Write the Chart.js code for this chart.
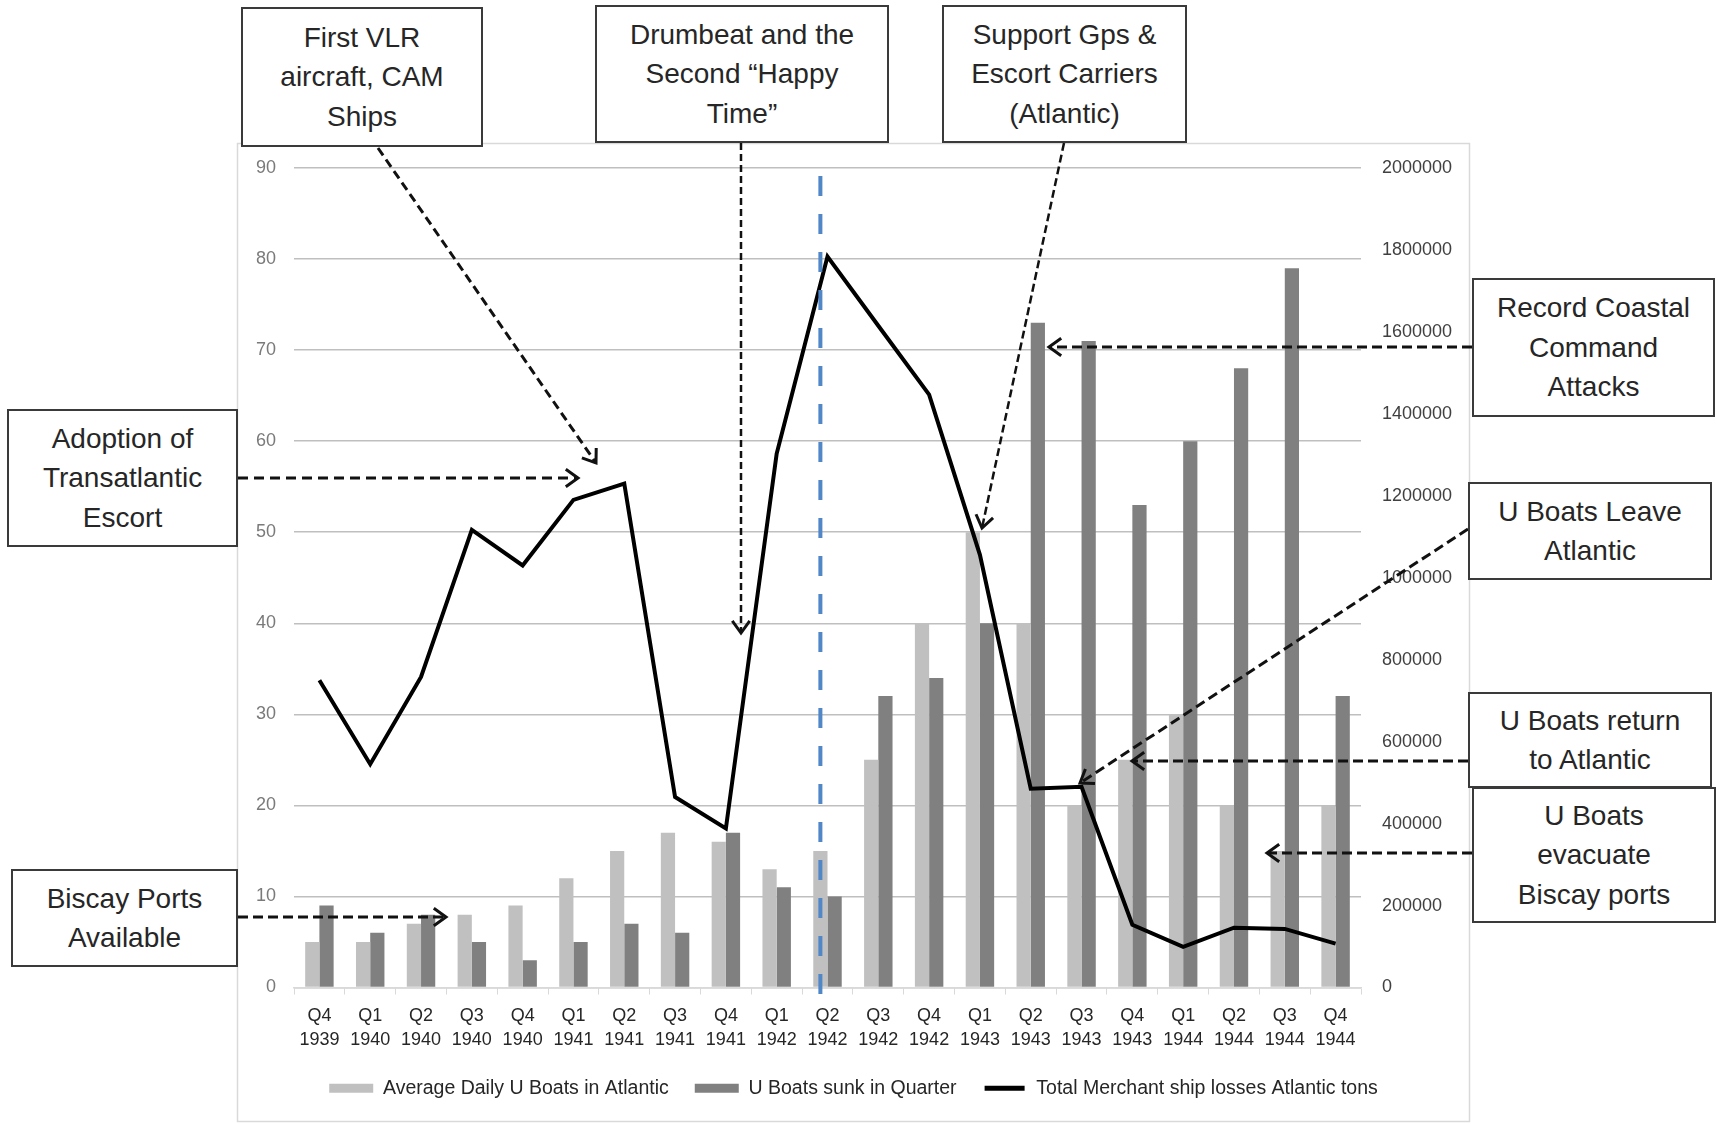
<!DOCTYPE html>
<html><head><meta charset="utf-8">
<script src="https://cdn.jsdelivr.net/npm/chart.js@4/dist/chart.umd.min.js"></script>
<style>
html,body{margin:0;padding:0;background:#fff;overflow:hidden;}
#wrap{position:relative;width:1717px;height:1124px;overflow:hidden;}
#c{position:absolute;left:0;top:0;}
.note{position:absolute;box-sizing:border-box;border:2px solid #3a3a3a;background:#fff;display:flex;align-items:center;justify-content:center;text-align:center;font-family:'Liberation Sans',Arial,sans-serif;font-size:28px;line-height:39.5px;color:#262626;}
</style></head><body>
<div id="wrap">
<canvas id="c" width="1717" height="1124"></canvas>
<div class="note" style="left:241px;top:7px;width:242px;height:140px">First VLR<br>aircraft, CAM<br>Ships</div>
<div class="note" style="left:595px;top:5px;width:294px;height:138px">Drumbeat and the<br>Second “Happy<br>Time”</div>
<div class="note" style="left:942px;top:5px;width:245px;height:138px">Support Gps &amp;<br>Escort Carriers<br>(Atlantic)</div>
<div class="note" style="left:7px;top:409px;width:231px;height:138px">Adoption of<br>Transatlantic<br>Escort</div>
<div class="note" style="left:11px;top:869px;width:227px;height:98px">Biscay Ports<br>Available</div>
<div class="note" style="left:1472px;top:278px;width:243px;height:139px">Record Coastal<br>Command<br>Attacks</div>
<div class="note" style="left:1468px;top:482px;width:244px;height:98px">U Boats Leave<br>Atlantic</div>
<div class="note" style="left:1468px;top:692px;width:244px;height:96px">U Boats return<br>to Atlantic</div>
<div class="note" style="left:1472px;top:787px;width:244px;height:136px">U Boats<br>evacuate<br>Biscay ports</div>
</div>
<script>
// ---- data ----
const quarters = ['Q4','Q1','Q2','Q3','Q4','Q1','Q2','Q3','Q4','Q1','Q2','Q3','Q4','Q1','Q2','Q3','Q4','Q1','Q2','Q3','Q4'];
const years    = ['1939','1940','1940','1940','1940','1941','1941','1941','1941','1942','1942','1942','1942','1943','1943','1943','1943','1944','1944','1944','1944'];
const avgDailyUBoats = [5,5,7,8,9,12,15,17,16,13,15,25,40,50,40,20,25,30,20,15,20];
const uBoatsSunk     = [9,6,8,5,3,5,7,6,17,11,10,32,34,40,73,71,53,60,68,79,32];
const merchantLosses = [750000,545000,758000,1117000,1030000,1190000,1230000,465000,388000,1303000,1784000,1615000,1447000,1056000,485000,490000,153000,99000,146000,143000,107000];
const seriesNames = ['Average Daily U Boats in Atlantic','U Boats sunk in Quarter','Total Merchant ship losses Atlantic tons'];
const leftAxis  = {min:0, max:90, step:10};
const rightAxis = {min:0, max:2000000, step:200000};
const markerCategory = 10; // Q2 1942

const categories = quarters.map((q,i)=>[q, years[i]]);
const FONT = "'Liberation Sans', Arial, sans-serif";

// annotation arrows (page pixel geometry)
const arrows = [
  {from:[378,148], to:[596,463], w:3, dash:[9,5]},
  {from:[238,478], to:[578,478], w:3, dash:[10,6]},
  {from:[741,143], to:[741,633], w:2.5, dash:[7,4]},
  {from:[1064,143], to:[982,528], w:2.5, dash:[8,4]},
  {from:[1472,347], to:[1049,347], w:3, dash:[10,5]},
  {from:[1468,529], to:[1080,783], w:3, dash:[10,5]},
  {from:[1468,761], to:[1132,761], w:3, dash:[10,5]},
  {from:[1472,853], to:[1267,853], w:3, dash:[10,5]},
  {from:[238,917], to:[446,917], w:3, dash:[10,5]}
];

const decor = {
  id:'decor',
  beforeDraw(chart){
    const c = chart.ctx;
    c.save();
    c.strokeStyle = '#d9d9d9'; c.lineWidth = 1.5;
    c.strokeRect(237.5, 143.5, 1232, 978);
    c.restore();
  },
  afterDraw(chart){
    const c = chart.ctx, xs = chart.scales.x, a = chart.chartArea;
    // blue dashed marker line
    const bw = (xs.width / categories.length) * 0.56 / 2;
    const mx = xs.getPixelForValue(markerCategory) - bw/2;
    c.save();
    c.strokeStyle = '#4f87c7'; c.lineWidth = 4; c.setLineDash([20,18]);
    c.beginPath(); c.moveTo(mx, a.top + 8); c.lineTo(mx, a.bottom + 23); c.stroke();
    c.restore();
    // arrows
    arrows.forEach(ar => {
      const [x0,y0] = ar.from, [x1,y1] = ar.to;
      c.save();
      c.strokeStyle = '#111'; c.lineWidth = ar.w; c.setLineDash(ar.dash);
      c.beginPath(); c.moveTo(x0,y0); c.lineTo(x1,y1); c.stroke();
      c.setLineDash([]);
      const ang = Math.atan2(y1-y0, x1-x0), L = 15, sp = 0.62;
      c.lineWidth = 3;
      c.beginPath();
      c.moveTo(x1 - L*Math.cos(ang-sp), y1 - L*Math.sin(ang-sp));
      c.lineTo(x1, y1);
      c.lineTo(x1 - L*Math.cos(ang+sp), y1 - L*Math.sin(ang+sp));
      c.stroke();
      c.restore();
    });
  }
};

new Chart(document.getElementById('c'), {
  type:'bar',
  data:{
    labels: categories,
    datasets:[
      {label:seriesNames[0], data:avgDailyUBoats, backgroundColor:'#c0c0c0', borderWidth:0, yAxisID:'y', categoryPercentage:0.56, barPercentage:1, order:1},
      {label:seriesNames[1], data:uBoatsSunk, backgroundColor:'#808080', borderWidth:0, yAxisID:'y', categoryPercentage:0.56, barPercentage:1, order:1},
      {type:'line', label:seriesNames[2], data:merchantLosses, borderColor:'#000', backgroundColor:'#000', borderWidth:4, pointRadius:0, tension:0, yAxisID:'y1', order:0}
    ]
  },
  options:{
    responsive:false, animation:false, devicePixelRatio:1,
    layout:{padding:{left:237, right:247, top:168, bottom:16}},
    plugins:{
      tooltip:{enabled:false},
      legend:{
        position:'bottom',
        labels:{
          boxWidth:44, boxHeight:9, padding:26, color:'#262626',
          font:{family:FONT, size:19.5},
          sort:(a,b)=>a.datasetIndex-b.datasetIndex,
          generateLabels:(chart)=>{
            const items = Chart.defaults.plugins.legend.labels.generateLabels(chart);
            items.forEach(it=>{
              if (it.datasetIndex===2){ it.fillStyle='#000'; it.strokeStyle='#fff'; it.lineWidth=4; }
              else { it.lineWidth=0; }
            });
            return items;
          }
        }
      }
    },
    scales:{
      x:{
        grid:{offset:true, drawOnChartArea:false, drawTicks:true, tickLength:7, color:'#d9d9d9'},
        border:{display:true, color:'#d9d9d9', width:1.5},
        ticks:{font:{family:FONT, size:18, lineHeight:1.35}, color:'#262626', padding:9, maxRotation:0, autoSkip:false},
        afterFit:s=>{ s.height = 65; }
      },
      y:{
        position:'left', min:leftAxis.min, max:leftAxis.max,
        ticks:{stepSize:leftAxis.step, padding:18, font:{family:FONT, size:18}, color:'#7a7a7a'},
        grid:{color:'#bfbfbf', lineWidth:1.5, drawTicks:false},
        border:{display:false},
        afterFit:s=>{ s.width = 57; }
      },
      y1:{
        position:'right', min:rightAxis.min, max:rightAxis.max,
        ticks:{stepSize:rightAxis.step, padding:21, font:{family:FONT, size:18}, color:'#404040', callback:v=>String(v)},
        grid:{drawOnChartArea:false, drawTicks:false},
        border:{display:false},
        afterFit:s=>{ s.width = 109; }
      }
    }
  },
  plugins:[decor]
});
</script>
</body></html>
